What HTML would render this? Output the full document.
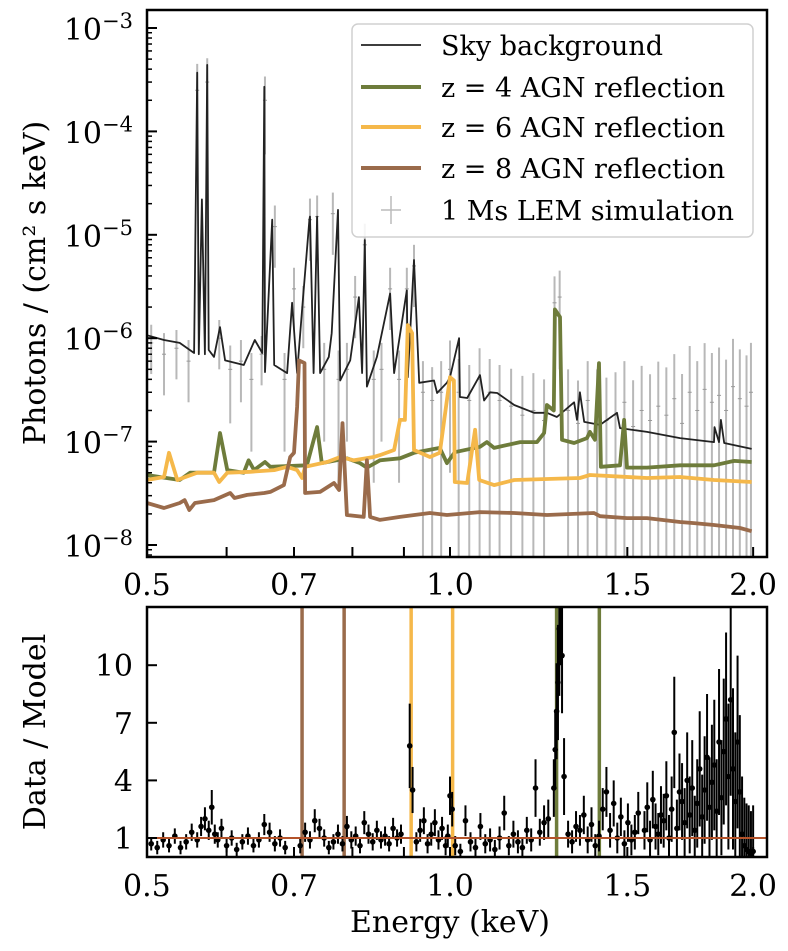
<!DOCTYPE html>
<html><head><meta charset="utf-8"><style>
html,body{margin:0;padding:0;background:#fff;}
svg{display:block;font-family:"DejaVu Serif","Liberation Serif",serif;}
</style></head><body>
<svg id="chart" xmlns="http://www.w3.org/2000/svg" width="788" height="951" viewBox="0 0 788 951">
<defs>
<clipPath id="clipTop"><rect x="147" y="10" width="620" height="547"/></clipPath>
<clipPath id="clipBot"><rect x="147" y="607" width="620" height="250"/></clipPath>
</defs>
<g id="topPlot" clip-path="url(#clipTop)"></g>
<g id="botPlot" clip-path="url(#clipBot)"></g>
<g id="axes"></g>
<rect x="147" y="10" width="620" height="547" fill="none" stroke="#000" stroke-width="2.5"/>
<rect x="147" y="607" width="620" height="250" fill="none" stroke="#000" stroke-width="2.5"/>
<text transform="translate(45,283) rotate(-90)" text-anchor="middle" font-size="30">Photons / (cm² s keV)</text>
<text transform="translate(45,732) rotate(-90)" text-anchor="middle" font-size="30">Data / Model</text>
<text x="450" y="932" text-anchor="middle" font-size="30">Energy (keV)</text>
<g>
<rect x="352" y="24" width="401" height="213" rx="6" fill="#fff" fill-opacity="0.85" stroke="#d0d0d0" stroke-width="1.5"/>
<line x1="361" y1="45" x2="421" y2="45" stroke="#222" stroke-width="1.8"/>
<text x="441" y="55" font-size="27">Sky background</text>
<line x1="361" y1="87" x2="421" y2="87" stroke="#6e7c3b" stroke-width="4"/>
<text x="441" y="97" font-size="27">z = 4 AGN reflection</text>
<line x1="361" y1="127" x2="421" y2="127" stroke="#f5b84a" stroke-width="4"/>
<text x="441" y="137" font-size="27">z = 6 AGN reflection</text>
<line x1="361" y1="168" x2="421" y2="168" stroke="#9a6b4b" stroke-width="4"/>
<text x="441" y="178" font-size="27">z = 8 AGN reflection</text>
<line x1="381" y1="210" x2="401" y2="210" stroke="#bbb" stroke-width="1.5"/>
<line x1="391" y1="196" x2="391" y2="224" stroke="#bbb" stroke-width="1.5"/>
<text x="441" y="220" font-size="27">1 Ms LEM simulation</text>
</g>
</svg>
<script>
// ---- data: sky background model ----
const skyE = [0.500,0.520,0.539,0.557,0.561,0.563,0.567,0.571,0.574,0.576,0.583,0.591,0.598,0.624,0.640,0.651,0.654,0.655,0.666,0.669,0.689,0.697,0.705,0.713,0.725,0.726,0.732,0.738,0.743,0.758,0.763,0.774,0.778,0.796,0.803,0.812,0.818,0.823,0.827,0.846,0.872,0.880,0.906,0.908,0.921,0.932,0.964,0.971,0.993,1.000,1.021,1.023,1.040,1.071,1.081,1.096,1.114,1.158,1.212,1.248,1.277,1.328,1.337,1.346,1.359,1.409,1.465,1.475,1.569,1.692,1.829,1.831,1.850,1.858,1.872,1.993];
const skyF = [1.07e-6,9.6e-7,9.0e-7,7.2e-7,3.7e-4,7e-7,2.2e-5,7e-7,4.4e-4,7.7e-7,6.6e-7,1.28e-6,6.1e-7,5.5e-7,9.6e-7,7.2e-7,2.7e-4,4.7e-7,1.4e-5,5.5e-7,4.6e-7,2.2e-6,4.6e-7,1.9e-6,1.4e-5,1.5e-5,4.6e-7,1.5e-5,4.6e-7,6.6e-7,1.12e-6,1.74e-5,3.9e-7,6.1e-7,1.12e-6,2.5e-6,4.6e-7,8.9e-6,3.4e-7,6.6e-7,2.7e-6,4.6e-7,2.9e-6,4.2e-7,5.7e-6,3.7e-7,3.9e-7,2.95e-7,3.7e-7,4.2e-7,1.0e-6,2.7e-7,2.64e-7,4.4e-7,2.5e-7,3.0e-7,2.95e-7,2.26e-7,1.9e-7,1.9e-7,1.73e-7,2.4e-7,1.62e-7,3.0e-7,1.55e-7,1.45e-7,1.9e-7,1.35e-7,1.24e-7,1.08e-7,9.9e-8,1.38e-7,9.9e-8,1.62e-7,9.7e-8,8.5e-8];
// ---- data: z=4 reflection ----
const z4E = [0.500,0.515,0.539,0.552,0.583,0.591,0.601,0.624,0.631,0.639,0.655,0.663,0.721,0.738,0.746,0.790,0.814,0.827,0.852,0.892,0.921,0.977,0.993,1.011,1.071,1.088,1.106,1.174,1.220,1.240,1.248,1.268,1.271,1.286,1.292,1.328,1.368,1.377,1.393,1.406,1.412,1.475,1.489,1.499,1.569,1.692,1.829,1.915,1.993];
const z4F = [4.75e-8,4.55e-8,4.25e-8,5.0e-8,5.0e-8,1.21e-7,5.3e-8,5.0e-8,6.6e-8,5.3e-8,6.35e-8,5.7e-8,5.9e-8,1.38e-7,6.2e-8,6.9e-8,6.2e-8,5.6e-8,6.6e-8,6.9e-8,7.8e-8,8.7e-8,6.2e-8,7.9e-8,8.9e-8,9.9e-8,8.7e-8,9.9e-8,9.9e-8,1.21e-7,2.26e-7,2.0e-7,1.9e-6,1.6e-6,1.04e-7,9.7e-8,1.08e-7,1.24e-7,1.04e-7,5.75e-7,5.7e-8,5.9e-8,1.62e-7,5.6e-8,5.6e-8,5.9e-8,5.9e-8,6.5e-8,6.35e-8];
// ---- data: z=6 reflection ----
const z6E = [0.500,0.520,0.526,0.536,0.561,0.583,0.590,0.601,0.633,0.669,0.689,0.705,0.713,0.718,0.755,0.778,0.803,0.840,0.852,0.880,0.892,0.902,0.908,0.917,0.921,0.955,0.977,1.000,1.009,1.011,1.040,1.059,1.069,1.106,1.158,1.346,1.377,1.569,1.692,1.829,1.993];
const z6F = [4.25e-8,4.55e-8,7.8e-8,4.25e-8,5.0e-8,5.0e-8,4.07e-8,5.0e-8,5.1e-8,5.3e-8,5.7e-8,5.3e-8,4.45e-8,5.7e-8,6.35e-8,7.1e-8,6.6e-8,7.1e-8,7.4e-8,8.3e-8,1.62e-7,1.62e-7,1.34e-6,1.12e-6,8.3e-8,7.1e-8,7.8e-8,4.2e-7,3.9e-7,4.07e-8,3.98e-8,1.3e-7,4.25e-8,3.8e-8,4.25e-8,4.45e-8,4.75e-8,4.45e-8,4.55e-8,4.25e-8,4.07e-8];
// ---- data: z=8 reflection ----
const z8E = [0.500,0.520,0.539,0.545,0.551,0.558,0.583,0.605,0.611,0.629,0.654,0.663,0.684,0.694,0.700,0.705,0.708,0.717,0.718,0.743,0.767,0.776,0.782,0.790,0.821,0.827,0.833,0.852,0.892,0.955,0.993,1.071,1.158,1.248,1.390,1.409,1.499,1.569,1.692,1.747,1.829,1.941,1.993];
const z8F = [2.55e-8,2.28e-8,2.55e-8,2.72e-8,2.18e-8,2.55e-8,2.72e-8,3.18e-8,2.85e-8,3.05e-8,3.18e-8,3.26e-8,3.8e-8,7.1e-8,7.8e-8,2.16e-7,6.1e-7,5.75e-7,3.18e-8,3.26e-8,3.98e-8,3.4e-8,1.51e-7,1.95e-8,1.87e-8,6.6e-8,1.87e-8,1.75e-8,1.87e-8,2.04e-8,1.95e-8,2.08e-8,2.04e-8,1.95e-8,2.04e-8,1.9e-8,1.82e-8,1.82e-8,1.67e-8,1.63e-8,1.56e-8,1.46e-8,1.36e-8];
// ---- data: 1 Ms LEM simulation (value, fractional error) ----
const simE = [0.505,0.52,0.535,0.55,0.561,0.574,0.59,0.605,0.62,0.635,0.65,0.655,0.67,0.685,0.70,0.715,0.726,0.738,0.75,0.765,0.775,0.79,0.805,0.823,0.84,0.855,0.872,0.89,0.906,0.921,0.94,0.96,0.98,1.0,1.02,1.045,1.07,1.095,1.12,1.15,1.18,1.21,1.24,1.27,1.285,1.31,1.34,1.37,1.40,1.43,1.46,1.49,1.52,1.55,1.58,1.61,1.64,1.67,1.70,1.73,1.76,1.79,1.82,1.85,1.88,1.91,1.94,1.97,1.99];
const simF = [9e-7,7e-7,8e-7,6e-7,2.5e-4,3e-4,1.0e-6,5e-7,6e-7,4e-7,7e-7,2e-4,1.2e-5,4e-7,3e-6,2e-6,1.4e-5,1.5e-5,5e-7,1.6e-5,4e-7,5e-7,2.5e-6,8e-6,4e-7,5e-7,3e-6,4e-7,3e-6,5e-6,3e-7,2.5e-7,3e-7,5e-7,3e-7,2.5e-7,4e-7,3e-7,2.5e-7,2.2e-7,1.8e-7,2.0e-7,1.6e-7,2.2e-6,2.5e-6,2.0e-7,1.5e-7,2.5e-7,2.0e-7,1.6e-7,1.8e-7,2.4e-7,1.4e-7,2.0e-7,1.6e-7,2.2e-7,1.8e-7,2.6e-7,1.5e-7,3.0e-7,2.0e-7,3.2e-7,2.4e-7,2.8e-7,2.0e-7,3.4e-7,2.6e-7,2.2e-7,3.0e-7];
const simErr = [0.5,0.6,0.5,0.6,0.8,0.7,0.5,0.7,0.6,0.8,0.5,0.7,0.6,0.8,0.6,0.6,0.6,0.6,0.8,0.6,0.9,0.8,0.6,0.6,0.9,0.8,0.6,0.9,0.6,0.6,1.0,1.1,1.0,0.9,1.1,1.2,1.0,1.1,1.2,1.3,1.4,1.3,1.5,0.8,0.8,1.5,1.6,1.4,1.5,1.6,1.6,1.5,1.8,1.7,1.8,1.7,1.9,1.7,2.0,1.8,2.0,1.8,2.0,1.9,2.1,1.9,2.0,2.1,2.0];
// ---- data: Data / Model residuals ----
const resE = [0.505,0.512,0.519,0.526,0.533,0.540,0.547,0.554,0.561,0.566,0.571,0.576,0.580,0.584,0.588,0.593,0.600,0.607,0.614,0.622,0.630,0.638,0.646,0.654,0.662,0.670,0.678,0.686,
0.710,0.718,0.726,0.734,0.742,0.750,0.758,0.766,0.774,0.782,0.790,0.798,0.806,0.814,0.822,0.830,0.838,0.846,0.854,0.862,0.870,0.878,0.886,0.894,
0.912,0.918,0.926,0.934,0.942,0.950,0.958,0.966,0.974,0.982,0.990,0.995,1.000,1.005,
1.012,1.024,1.036,1.048,1.060,1.072,1.084,1.096,1.108,1.120,1.132,1.144,1.156,1.168,1.180,1.192,1.204,1.216,1.228,1.240,1.252,
1.268,1.272,1.276,1.280,1.284,1.288,1.292,1.298,
1.310,1.322,1.334,1.346,1.358,1.370,1.382,1.394,1.406,1.418,1.430,1.442,1.454,1.466,1.478,1.490,1.502,1.514,1.526,1.538,
1.560,1.570,1.580,1.590,1.600,1.610,1.620,1.630,1.640,1.650,1.660,1.670,1.680,1.690,1.700,1.710,1.720,1.730,1.740,1.750,1.760,1.770,1.780,1.790,1.800,1.810,1.820,1.830,1.840,1.850,1.860,1.870,1.880,1.890,1.900,1.910,1.920,1.930,1.940,1.950,1.960,1.970,1.980,1.990,2.000];
const resV = [0.7,0.5,0.9,0.6,1.1,0.5,0.8,1.3,0.9,1.6,2.0,1.4,2.6,1.2,0.9,1.5,0.6,1.0,0.4,0.8,1.1,0.6,0.9,1.7,1.3,0.7,1.0,0.5,
0.6,1.3,0.9,1.9,1.5,1.0,0.5,0.8,1.2,0.7,1.6,0.9,1.1,0.6,1.8,1.2,0.8,1.4,0.9,1.1,0.7,1.5,1.0,1.2,
5.8,3.5,0.8,1.4,1.9,0.7,1.2,1.8,0.9,1.5,0.6,1.1,3.2,2.5,
0.6,0.3,1.9,0.8,0.5,1.6,0.7,0.9,0.4,1.0,2.3,0.6,1.2,0.8,0.5,1.4,0.9,3.6,1.3,1.8,2.0,
3.6,5.6,7.6,9.1,11.9,13.5,10.5,4.2,
1.2,0.8,1.6,1.4,2.2,0.9,1.7,0.6,1.1,2.5,3.4,1.4,2.8,1.0,2.1,0.7,1.8,0.9,1.3,2.3,
1.4,2.6,0.9,3.0,1.6,1.2,2.2,1.9,3.2,1.0,2.5,6.5,1.5,3.4,2.9,1.8,4.0,2.2,3.6,1.4,2.8,4.6,2.1,3.5,5.2,2.6,3.9,4.8,2.4,6.0,3.1,5.5,7.2,4.2,8.2,4.6,2.9,6.0,3.4,1.2,0.6,0.4,0.3,0.2,0.3];
const resErr = [0.35,0.35,0.4,0.35,0.4,0.35,0.4,0.45,0.4,0.5,0.6,0.5,0.9,0.5,0.4,0.5,0.35,0.4,0.35,0.4,0.45,0.35,0.4,0.55,0.5,0.4,0.45,0.35,
0.4,0.5,0.45,0.6,0.5,0.45,0.35,0.4,0.5,0.4,0.55,0.45,0.5,0.4,0.6,0.5,0.45,0.5,0.45,0.5,0.4,0.55,0.45,0.5,
2.2,1.2,0.5,0.6,0.7,0.5,0.6,0.7,0.5,0.6,0.5,0.6,1.0,0.9,
0.5,0.4,0.8,0.5,0.5,0.7,0.5,0.6,0.5,0.6,0.9,0.5,0.7,0.6,0.5,0.7,0.6,1.5,0.7,0.9,1.0,
1.5,2.0,2.5,3.0,3.5,3.5,3.0,2.0,
0.7,0.6,0.8,0.8,1.0,0.7,0.9,0.6,0.8,1.1,1.3,0.9,1.2,0.8,1.0,0.7,1.0,0.8,0.9,1.1,
1.0,1.3,1.0,1.5,1.2,1.1,1.5,1.4,1.8,1.2,1.7,2.9,1.5,2.0,2.0,1.8,2.5,2.0,2.5,1.8,2.3,3.0,2.2,2.8,3.3,2.6,3.0,3.4,2.7,3.8,3.0,3.8,4.5,3.8,5.0,4.2,3.6,4.5,4.0,3.0,2.5,2.4,2.4,2.2,2.4];
// ---- reference lines in ratio panel ----
const lineE = [0.713,0.785,0.915,1.006,1.276,1.407];
const lineC = ['#9a6b4b','#9a6b4b','#f5b84a','#f5b84a','#6e7c3b','#6e7c3b'];
const xTicks = [0.6,0.7,0.8,0.9,1.0,1.5,2.0];
const xTickLabels = ['0.5','0.7','1.0','1.5','2.0'];
const xLabelVals = [0.5,0.7,1.0,1.5,2.0];
const yDecades = [-3,-4,-5,-6,-7,-8];
const ratioTicks = [1,4,7,10];

const NS = 'http://www.w3.org/2000/svg';
function xS(E){ return 450 + 1007*Math.log10(E); }
function yT(F){ return 28 + (-3 - Math.log10(F))*103.4; }
function yB(v){ return 838 - (v-1)*19.2; }
function mk(tag, attrs, parent){
  const el = document.createElementNS(NS, tag);
  for (const k in attrs) el.setAttribute(k, attrs[k]);
  parent.appendChild(el);
  return el;
}
const topG = document.getElementById('topPlot');
const botG = document.getElementById('botPlot');
const axG = document.getElementById('axes');

for (let i=0;i<simE.length;i++){
  const x = xS(simE[i]);
  const hi = simF[i]*(1+simErr[i]);
  const loV = simF[i]*(1-simErr[i]);
  const y1 = yT(hi);
  const y2 = loV>0 ? yT(loV) : 560;
  const b = mk('line',{x1:x,x2:x,y1:y1,y2:y2,stroke:'#b8b8b8','stroke-width':2},topG);
  
  
  const c = mk('line',{x1:x-2,x2:x+2,y1:yT(simF[i]),y2:yT(simF[i]),stroke:'#999','stroke-width':1},topG);
  
  
}
function path(Es, Fs, color, w){
  let d='';
  for (let i=0;i<Es.length;i++) d += (i?'L':'M') + xS(Es[i]).toFixed(1) + ',' + yT(Fs[i]).toFixed(1);
  return mk('path',{d:d,fill:'none',stroke:color,'stroke-width':w,'stroke-linejoin':'round'},topG);
}
const pSky = path(skyE, skyF, '#222', 1.8);


const p4 = path(z4E, z4F, '#6e7c3b', 3.8);


const p6 = path(z6E, z6F, '#f5b84a', 3.8);


const p8 = path(z8E, z8F, '#9a6b4b', 3.8);



for (let i=0;i<lineE.length;i++){
  const x = xS(lineE[i]);
  const l = mk('line',{x1:x,x2:x,y1:600,y2:860,stroke:lineC[i],'stroke-width':3.5},botG);
  
  
}
for (let i=0;i<resE.length;i++){
  const x = xS(resE[i]);
  const lo = Math.max(resV[i]-resErr[i], -0.2);
  const e = mk('line',{x1:x,x2:x,y1:yB(resV[i]+resErr[i]),y2:yB(lo),stroke:'#000','stroke-width':2},botG);
  
  
  const p = mk('circle',{cx:x,cy:yB(resV[i]),r:2.8,fill:'#000'},botG);
  
  
}
const unity = mk('line',{x1:147,x2:767,y1:yB(1),y2:yB(1),stroke:'#b4532a','stroke-width':2},botG);



for (const v of xTicks){
  const x = xS(v);
  const t1 = mk('line',{x1:x,x2:x,y1:557,y2:547,stroke:'#000','stroke-width':2},axG);
  
  
  const t2 = mk('line',{x1:x,x2:x,y1:857,y2:847,stroke:'#000','stroke-width':2},axG);
  
  
}
for (let i=0;i<xLabelVals.length;i++){
  const x = xS(xLabelVals[i]);
  const a = mk('text',{x:x,y:595,'text-anchor':'middle','font-size':30},axG);
  a.textContent = xTickLabels[i];
  
  
  const b = mk('text',{x:x,y:896,'text-anchor':'middle','font-size':30},axG);
  b.textContent = xTickLabels[i];
  
  
}
for (let d=-9; d<=-3; d++){
  for (let m=1; m<=9; m++){
    const F = m*Math.pow(10,d);
    const y = yT(F);
    if (y<11 || y>556) continue;
    const len = m===1 ? 10 : 5;
    const t = mk('line',{x1:147,x2:147+len,y1:y,y2:y,stroke:'#000','stroke-width':m===1?2:1.5},axG);
    
    
  }
}
for (const d of yDecades){
  const y = yT(Math.pow(10,d));
  const t = mk('text',{x:133,y:y+12,'text-anchor':'end','font-size':30},axG);
  
  
  const a = document.createElementNS(NS,'tspan'); a.textContent='10'; t.appendChild(a);
  const b = document.createElementNS(NS,'tspan'); b.setAttribute('dy','-12'); b.setAttribute('font-size','21'); b.textContent='\u2212'+(-d); t.appendChild(b);
}
for (const v of ratioTicks){
  const y = yB(v);
  const t = mk('line',{x1:147,x2:157,y1:y,y2:y,stroke:'#000','stroke-width':2},axG);
  
  
  const l = mk('text',{x:133,y:y+11,'text-anchor':'end','font-size':30},axG);
  l.textContent = String(v);
  
  
}
</script>
</body></html>
